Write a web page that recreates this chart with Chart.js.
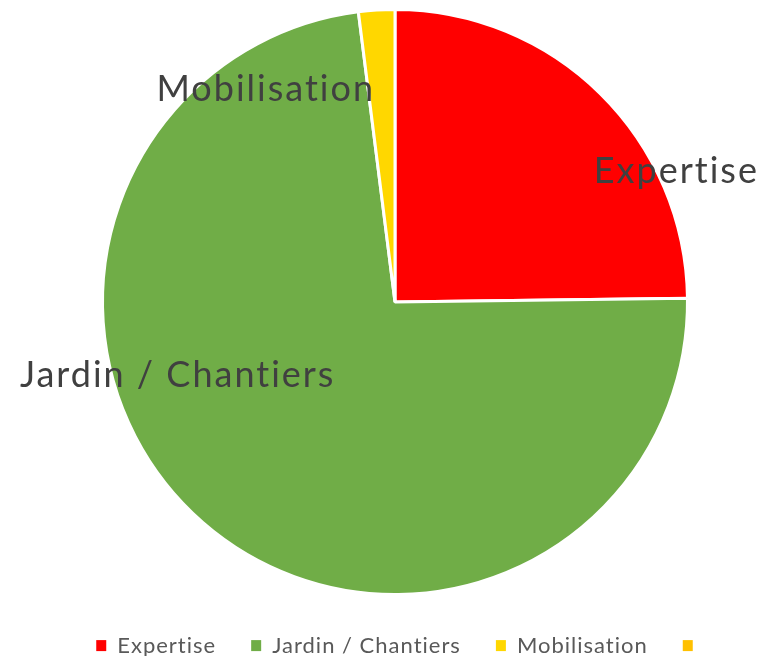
<!DOCTYPE html>
<html>
<head>
<meta charset="utf-8">
<script src="https://cdn.jsdelivr.net/npm/chart.js@4/dist/chart.umd.min.js"></script>
<style>
  html, body { margin: 0; padding: 0; background: #fff; }
  #wrap { width: 773px; height: 656px; position: relative; }
</style>
</head>
<body>
<div id="wrap"><canvas id="pie"></canvas></div>
<script>
  const categories = ['Expertise', 'Jardin / Chantiers', 'Mobilisation', ''];
  const values = [24.8, 73.2, 2.0, 0];
  const sliceColors = ['#FF0000', '#70AD47', '#FFD700', '#FFC000'];

  // where each slice's name sits, in units of the pie radius from its centre
  const labelSpots = [[0.962, -0.445], [-0.743, 0.25], [-0.442, -0.726], null];

  const sliceNames = {
    id: 'sliceNames',
    afterInit(chart) {
      // fixed legend strip height, items pushed down by the empty title
      const fit = chart.legend.fit;
      chart.legend.fit = function() {
        fit.call(this);
        this.height = 60;
      };
    },
    afterLayout(chart) {
      chart.legend.left += 5;
      chart.legend.right += 5;
    },
    beforeUpdate(chart) {
      chart.ctx.letterSpacing = '1px';
    },
    beforeDraw(chart) {
      chart.ctx.letterSpacing = '1px';
    },
    afterDatasetsDraw(chart) {
      const ctx = chart.ctx;
      const arcs = chart.getDatasetMeta(0).data;
      ctx.save();
      ctx.font = '36px Lato';
      ctx.letterSpacing = '2px';
      ctx.fillStyle = '#404040';
      ctx.textAlign = 'center';
      ctx.textBaseline = 'middle';
      arcs.forEach((arc, i) => {
        const spot = labelSpots[i];
        if (!spot || !categories[i]) return;
        const r = arc.outerRadius;
        ctx.fillText(categories[i], arc.x + spot[0] * r, arc.y + spot[1] * r);
      });
      ctx.restore();
    }
  };

  const baseLabels = Chart.overrides.pie.plugins.legend.labels.generateLabels;

  new Chart(document.getElementById('pie').getContext('2d'), {
    type: 'pie',
    data: {
      labels: categories,
      datasets: [{
        data: values,
        backgroundColor: sliceColors,
        borderColor: '#ffffff',
        borderWidth: 3
      }]
    },
    options: {
      responsive: true,
      maintainAspectRatio: false,
      animation: false,
      layout: { padding: { left: 17, right: 0, top: 8, bottom: 0 } },
      plugins: {
        legend: {
          position: 'bottom',
          title: { display: true, text: '', font: { size: 3 }, padding: 0 },
          labels: {
            boxWidth: 10,
            boxHeight: 11,
            padding: 35,
            color: '#595959',
            font: { family: 'Lato', size: 22 },
            generateLabels(chart) {
              return baseLabels(chart).map(item => ({ ...item, lineWidth: 0 }));
            }
          }
        },
        tooltip: { enabled: false }
      }
    },
    plugins: [sliceNames]
  });
</script>
</body>
</html>
